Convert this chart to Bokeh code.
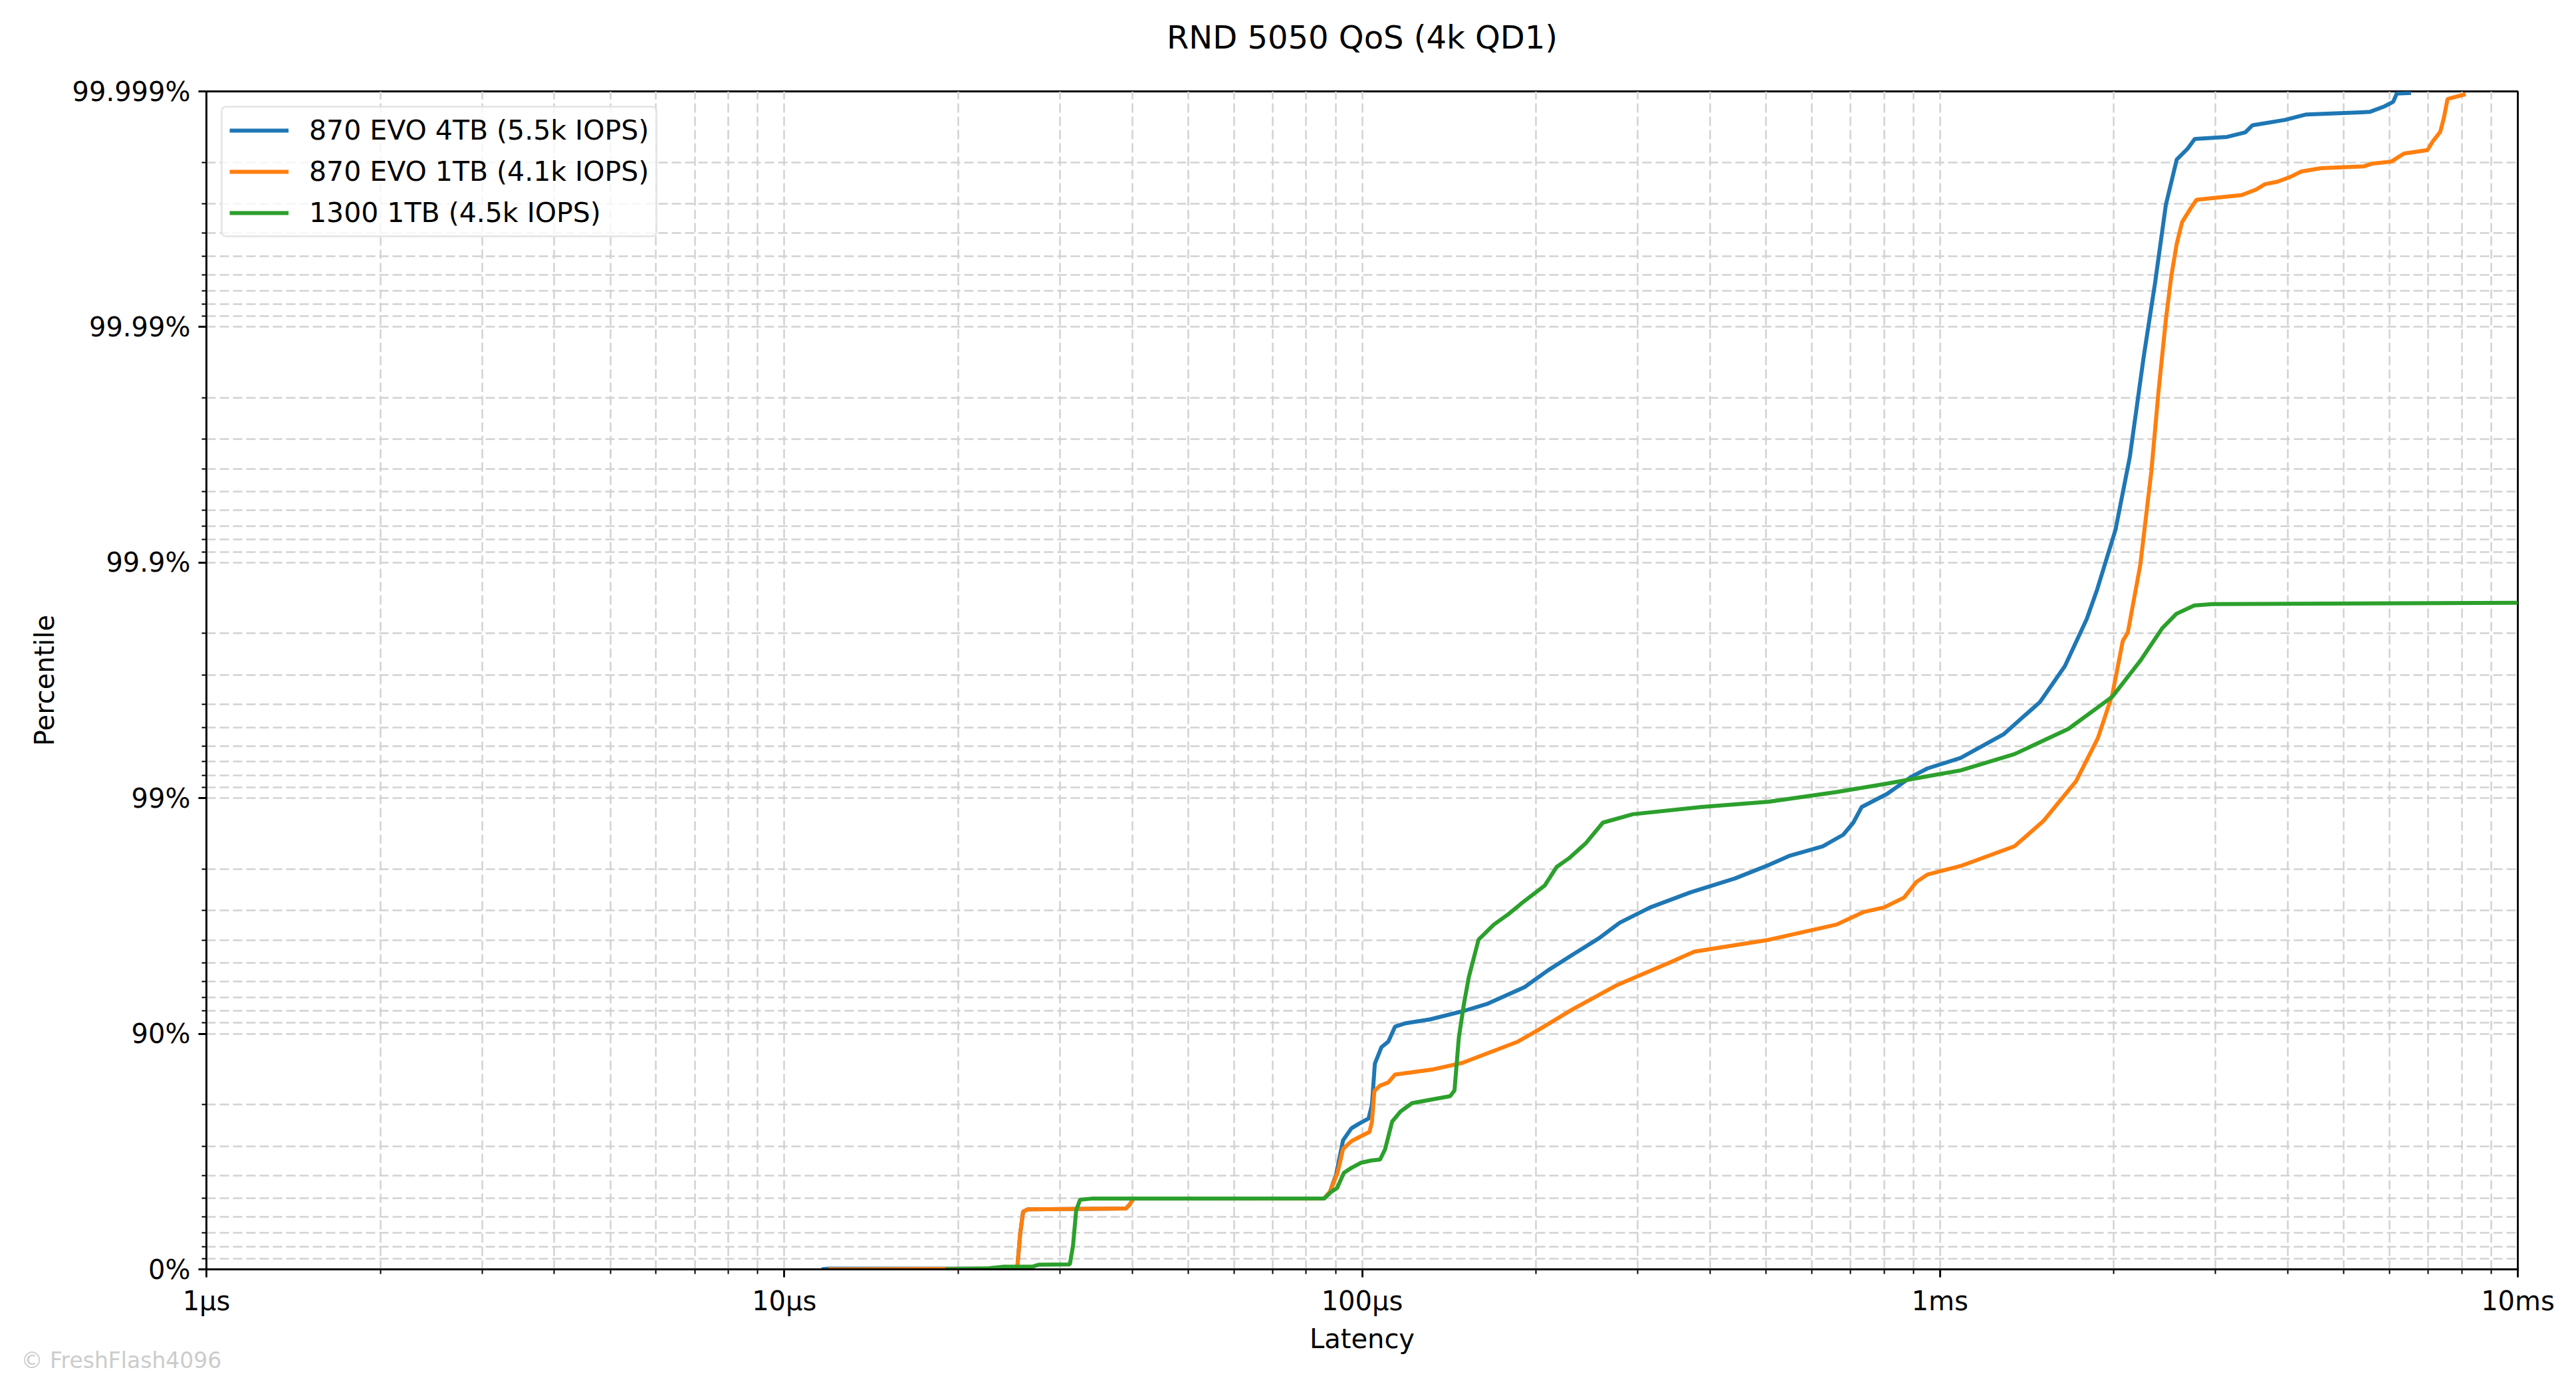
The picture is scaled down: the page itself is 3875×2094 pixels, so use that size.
import numpy as np
from bokeh.plotting import figure
from bokeh.models import FixedTicker, Range1d, Legend, LegendItem, Title
from bokeh.embed import file_html
from bokeh.resources import INLINE

# ---------------- data (latency in microseconds, percentile in %) ----------------
evo4_lat = [11.6, 11.9, 25.3, 25.6, 25.9, 26.4, 39.0, 39.6, 40.2, 86.0, 88.0, 90.2, 92.7,
            95.8, 99.0, 102.6, 104.0, 105.2, 108.0, 111.0, 114.0, 119.0, 131.0, 150.0,
            165.0, 191.0, 210.0, 231.0, 257.0, 279.0, 315.0, 370.0, 442.0, 506.0, 548.0,
            627.0, 680.0, 708.0, 732.0, 810.0, 891.0, 951.0, 1086, 1288, 1489, 1645,
            1794, 1871, 2013, 2131, 2253, 2355, 2460, 2569, 2681, 2760, 3141, 3375, 3472,
            3953, 4306, 5542, 5870, 6086, 6173, 6534]
evo4_pct = [0.0, 0.69, 0.69, 29.2, 43.1, 44.4, 44.8, 46.9, 49.9, 50.0, 53.2, 60.6, 71.7,
            74.8, 76.0, 77.1, 80.0, 86.6, 88.6, 89.2, 90.67, 90.98, 91.31, 92.00,
            92.55, 93.66, 94.63, 95.37, 96.07, 96.62, 97.09, 97.49, 97.81, 98.08, 98.24,
            98.40, 98.57, 98.73, 98.91, 99.041, 99.187, 99.252, 99.325, 99.464, 99.609, 99.725,
            99.826, 99.870, 99.9276, 99.96444, 99.98673, 99.993439, 99.996973, 99.998055,
            99.998246, 99.998408, 99.998440, 99.998507, 99.998607, 99.998679, 99.998747,
            99.998778, 99.998841, 99.998893, 99.998979, 99.998986]

evo1_lat = [11.9, 25.3, 25.6, 25.9, 26.4, 39.0, 39.6, 40.2, 86.0, 88.0, 90.7, 92.7, 95.8,
            99.0, 103.0, 104.0, 105.0, 107.4, 111.0, 114.0, 132.0, 149.0, 186, 202, 231,
            275, 337, 376, 506, 662, 738, 800, 867, 910, 951, 1086, 1346, 1510, 1720,
            1876, 1987, 2072, 2114, 2222, 2321, 2388, 2460, 2514, 2569, 2625, 2721, 2780,
            3326, 3522, 3650, 3840, 4040, 4220, 4563, 5420, 5580, 6040, 6353, 6977, 7130,
            7340, 7450, 7558, 8120]
evo1_pct = [0.0, 0.69, 29.2, 43.1, 44.4, 44.8, 46.9, 49.9, 50.0, 53.2, 61.2, 69.2, 71.4,
            72.6, 73.9, 76.4, 82.5, 83.4, 83.9, 85.1, 85.8, 86.7, 89.2, 90.38, 92.11,
            93.76, 94.96, 95.52, 96.01, 96.56, 96.96, 97.09, 97.36, 97.73, 97.89, 98.06,
            98.40, 98.75, 99.153, 99.444, 99.636, 99.785, 99.802, 99.8981, 99.95879,
            99.981033, 99.9907103, 99.9939186, 99.9955741, 99.996419, 99.9968883, 99.997116,
            99.9972458, 99.9973878, 99.9975226, 99.9975845, 99.9976933, 99.9978122,
            99.9978816, 99.9979203, 99.9979723, 99.9980139, 99.9981635, 99.9982258,
            99.9983745, 99.9985141, 99.9987088, 99.9989235, 99.998972]

s1300_lat = [19.0, 22.5, 24.0, 26.9, 27.6, 31.2, 31.6, 32.0, 32.5, 34.0, 86.0, 88.5, 90.5,
             93.0, 95.8, 99.5, 103.7, 107.4, 109.6, 112.7, 116.5, 122, 130.6, 142, 144.5,
             147, 150, 153, 159, 169, 179, 191, 207, 217, 228, 244, 261, 294, 386, 506,
             662, 810, 951, 1086, 1346, 1668, 1987, 2222, 2424, 2565, 2756, 2960, 10000]
s1300_pct = [0.0, 0.9, 2.5, 2.7, 4.5, 4.7, 20.6, 43.8, 49.4, 49.9, 50.0, 53.2, 54.8,
             61.1, 62.9, 64.7, 65.5, 65.8, 69.1, 76.4, 78.6, 80.3, 80.9, 81.6, 82.6,
             89.6, 92.5, 94.26, 96.01, 96.56, 96.89, 97.27, 97.65, 98.04, 98.20, 98.45,
             98.73, 98.83, 98.91, 98.965, 99.058, 99.133, 99.193, 99.238, 99.350, 99.492,
             99.629, 99.739, 99.810, 99.835, 99.848, 99.850, 99.852]

series_names = ["870 EVO 4TB (5.5k IOPS)", "870 EVO 1TB (4.1k IOPS)", "1300 1TB (4.5k IOPS)"]
series_colors = ["#1f77b4", "#ff7f0e", "#2ca02c"]

xtick_values = [1, 10, 100, 1000, 10000]
xtick_labels = ["1µs", "10µs", "100µs", "1ms", "10ms"]
ytick_percent = [0, 90, 99, 99.9, 99.99, 99.999]
ytick_labels = ["0%", "90%", "99%", "99.9%", "99.99%", "99.999%"]
title_text = "RND 5050 QoS (4k QD1)"
credit_text = "© FreshFlash4096"


def nines(p):
    p = np.asarray(p, dtype=float)
    return -np.log10(1.0 - p / 100.0)


FONT = "DejaVu Sans"

p = figure(width=3859, height=2078, x_axis_type="log",
           x_range=Range1d(1, 10000), y_range=Range1d(0, 5),
           output_backend="svg", toolbar_location=None, title=None,
           min_border_left=310, min_border_right=72, min_border_top=137, min_border_bottom=169)
p.background_fill_color = "white"
p.border_fill_color = "white"
p.outline_line_color = "black"
p.outline_line_width = 2.8

# spacer between plot frame and title, then the title itself
spacer = Title(text=" ", text_font_size="10px", standoff=41, text_color="white")
p.add_layout(spacer, "above")
main_title = Title(text=title_text, align="center", standoff=0, text_font=FONT,
                   text_font_size="48px", text_font_style="normal", text_color="black")
p.add_layout(main_title, "above")

# ticks
y_major = [int(round(float(v))) for v in nines(ytick_percent)]
y_minor = []
for k in range(1, 6):
    for m in range(2, 10):
        y_minor.append(float(nines(100.0 * (1 - m * 10.0 ** (-k)))))
x_minor = [m * 10.0 ** k for k in range(0, 4) for m in range(2, 10)]

p.xaxis.ticker = FixedTicker(ticks=xtick_values, minor_ticks=x_minor)
p.yaxis.ticker = FixedTicker(ticks=y_major, minor_ticks=y_minor)
p.xaxis.major_label_overrides = {v: l for v, l in zip(xtick_values, xtick_labels)}
p.yaxis.major_label_overrides = {v: l for v, l in zip(y_major, ytick_labels)}

for ax in (p.xaxis, p.yaxis):
    ax.axis_line_width = 2.8
    ax.axis_line_color = "black"
    ax.major_tick_line_width = 2.8
    ax.major_tick_out = 12
    ax.major_tick_in = 0
    ax.minor_tick_line_width = 2.0
    ax.minor_tick_out = 7
    ax.minor_tick_in = 0
    ax.major_label_text_font = FONT
    ax.major_label_text_font_size = "40px"
    ax.major_label_text_color = "black"
    ax.major_label_standoff = 12
    ax.axis_label_text_font = FONT
    ax.axis_label_text_font_size = "40px"
    ax.axis_label_text_font_style = "normal"
    ax.axis_label_text_color = "black"

p.xaxis.axis_label = "Latency"
p.yaxis.axis_label = "Percentile"
p.xaxis.axis_label_standoff = 8
p.yaxis.axis_label_standoff = 16
p.yaxis.major_label_orientation = "horizontal"

for g in (p.xgrid, p.ygrid):
    g.grid_line_color = "#d2d2d2"
    g.grid_line_width = 2.5
    g.grid_line_dash = "14 6"
    g.minor_grid_line_color = "#d2d2d2"
    g.minor_grid_line_width = 2.5
    g.minor_grid_line_dash = "14 6"

renderers = []
for lat, pct, col in zip([evo4_lat, evo1_lat, s1300_lat],
                         [evo4_pct, evo1_pct, s1300_pct], series_colors):
    r = p.line(lat, nines(pct), line_color=col, line_width=6)
    renderers.append(r)

legend = Legend(items=[LegendItem(label=n, renderers=[r]) for n, r in zip(series_names, renderers)],
                location="top_left")
legend.margin = 22
legend.padding = 10
legend.spacing = 14
legend.glyph_width = 89
legend.glyph_height = 40
legend.label_height = 40
legend.label_standoff = 31
legend.label_text_font = FONT
legend.label_text_font_size = "41px"
legend.label_text_color = "black"
legend.border_line_color = "#d0d0d0"
legend.border_line_width = 3
legend.border_radius = 8
legend.background_fill_color = "white"
legend.background_fill_alpha = 0.8
p.add_layout(legend, "center")

# watermark below the x axis label, pulled to the left edge of the figure
credit = Title(text=credit_text, align="left", offset=-279, standoff=-26, vertical_align="top",
               text_font=FONT, text_font_size="33px", text_font_style="normal",
               text_color="#cccccc")
p.add_layout(credit, "below")

open("out.html", "w").write(file_html(p, INLINE))
